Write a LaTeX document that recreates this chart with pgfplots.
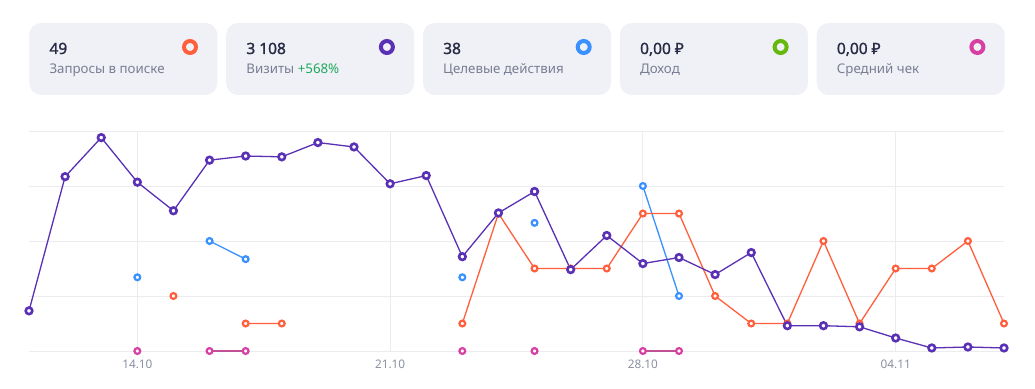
\documentclass[border=0pt]{standalone}
\usepackage{pgfplots}
\pgfplotsset{compat=1.18}
\usepackage{fontspec}
\setmainfont{Noto Sans}
\newfontfamily\valfont{Noto Sans}[FakeBold=1.3]
\definecolor{cardbg}{HTML}{F0F1F6}
\definecolor{valc}{HTML}{272B44}
\definecolor{labc}{HTML}{787D93}
\definecolor{upc}{HTML}{1FA85E}
\definecolor{cor}{HTML}{FF5F3C}
\definecolor{cpu}{HTML}{5A30B5}
\definecolor{cbl}{HTML}{3990FF}
\definecolor{cgr}{HTML}{67B80E}
\definecolor{cpk}{HTML}{D83FA3}
\definecolor{cpkl}{HTML}{C04F93}
\definecolor{gridc}{HTML}{ECECF0}
\definecolor{tickc}{HTML}{8A90A2}
\newcommand{\card}[5]{%
  \fill[cardbg, rounded corners=12pt] (#1,293) rectangle ++(188,72);
  \node[anchor=base west, inner sep=0pt, text=valc, font=\valfont\fontsize{15.5}{18}\selectfont] at (#1+20,334) {#2};
  \node[anchor=base west, inner sep=0pt, text=labc, font=\fontsize{13.3}{16}\selectfont] at (#1+20,314) {#3};
  \draw[#4, line width=4pt] (#1+160.7,341) circle (6);
}
\begin{document}
\begin{tikzpicture}[x=1pt,y=1pt]
\useasboundingbox (0,0) rectangle (1035,388);
\fill[white] (0,0) rectangle (1035,388);
\card{29.3}{49}{Запросы в поиске}{cor}{}
\card{226.2}{3 108}{Визиты \textcolor{upc}{+568\%}}{cpu}{}
\card{423.0}{38}{Целевые действия}{cbl}{}
\card{619.9}{0,00 ₽}{Доход}{cgr}{}
\card{816.7}{0,00 ₽}{Средний чек}{cpk}{}
\begin{axis}[at={(29pt,37pt)}, anchor=south west, scale only axis,
  width=975pt, height=220pt, xmin=0, xmax=27, ymin=0, ymax=4,
  clip=false, axis line style={draw=none},
  xtick={3,10,17,24}, xticklabels={14.10,21.10,28.10,04.11},
  ytick={0,1,2,3,4}, yticklabels={},
  major tick length=0pt, grid=major,
  major grid style={color=gridc, line width=0.9pt},
  xticklabel style={anchor=base, yshift=-17.3pt, font=\fontsize{11.8}{14}\selectfont, text=tickc},
  unbounded coords=jump]
% Средний чек
\addplot[color=cpkl, line width=1.4pt, mark=*, mark size=2.9pt,
  mark options={draw=cpk, fill=white, line width=2.2pt}] coordinates {
(3,0) (4,nan) (5,0) (6,0) (7,nan) (12,0) (13,nan) (14,0) (15,nan) (17,0) (18,0)};
% Целевые действия
\addplot[color=cbl, line width=1.3pt, mark=*, mark size=2.9pt,
  mark options={fill=white, line width=2.2pt}] coordinates {
(3,1.34) (4,nan) (5,2.0) (6,1.67) (7,nan) (12,1.34) (13,nan) (14,2.33) (15,nan) (17,3.0) (18,1.0)};
% Запросы в поиске
\addplot[color=cor, line width=1.3pt, mark=*, mark size=2.9pt,
  mark options={fill=white, line width=2.2pt}] coordinates {
(4,1.0) (5,nan) (6,0.5) (7,0.5) (8,nan)
(12,0.5) (13,2.5) (14,1.5) (15,1.5) (16,1.5) (17,2.5) (18,2.5) (19,1.0)
(20,0.5) (21,0.5) (22,2.0) (23,0.5) (24,1.5) (25,1.5) (26,2.0) (27,0.5)};
% Визиты
\addplot[color=cpu, line width=1.3pt, mark=*, mark size=3.3pt,
  mark options={fill=white, line width=2.6pt}] coordinates {
(0,0.73) (1,3.17) (2,3.88) (3,3.07) (4,2.55) (5,3.47) (6,3.545) (7,3.53)
(8,3.79) (9,3.71) (10,3.04) (11,3.19) (12,1.715) (13,2.51) (14,2.90)
(15,1.48) (16,2.10) (17,1.59) (18,1.70) (19,1.39) (20,1.79) (21,0.46)
(22,0.46) (23,0.44) (24,0.236) (25,0.055) (26,0.073) (27,0.055)};
\end{axis}
\end{tikzpicture}
\end{document}
